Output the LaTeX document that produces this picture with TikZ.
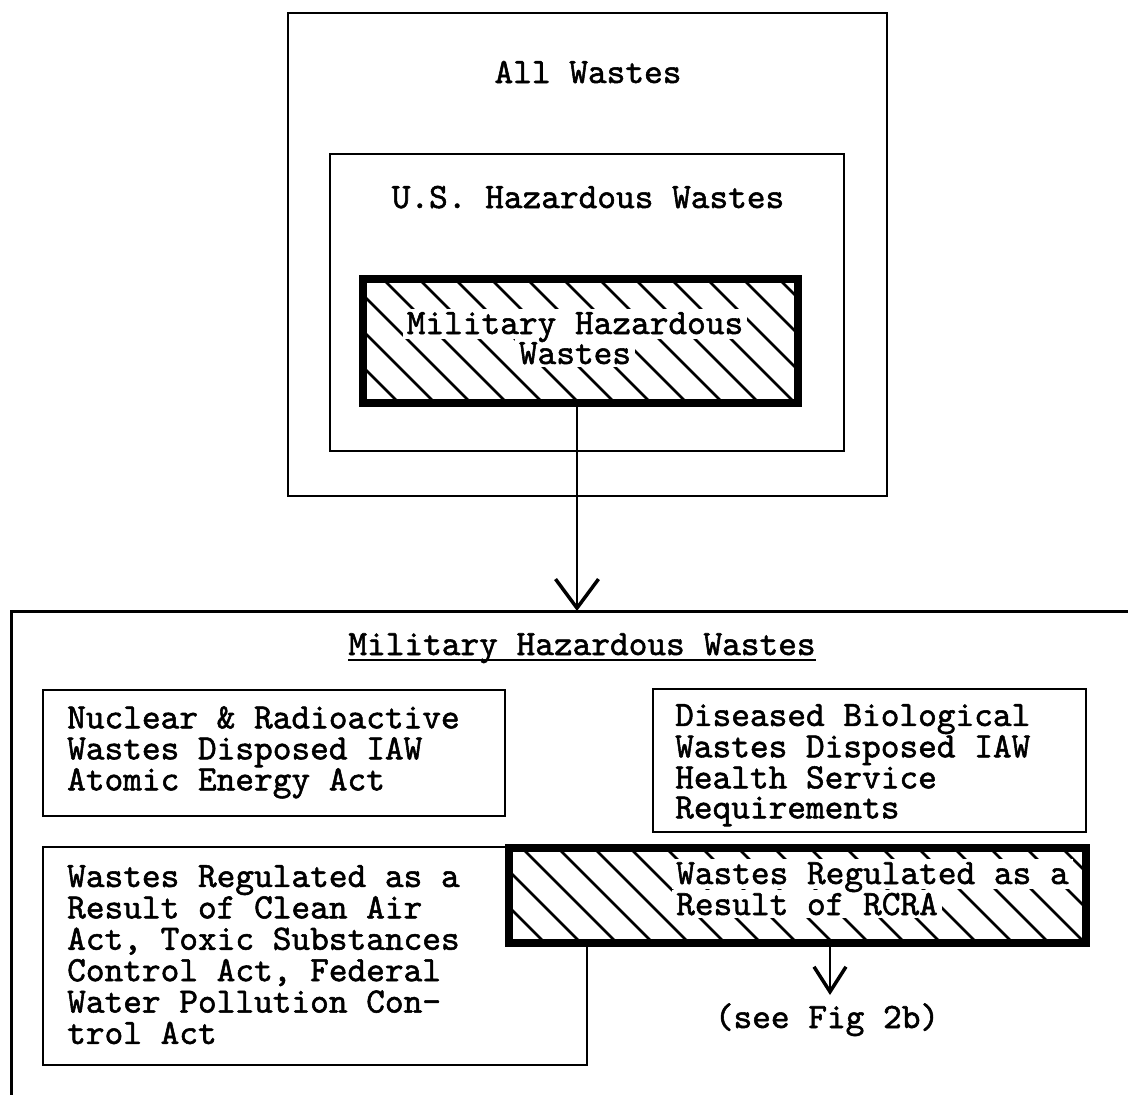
\documentclass[tikz,border=0pt]{standalone}
\usepackage{fontspec}
\newfontfamily\tw{lmmono10-regular.otf}[FakeBold=1.5]
\usetikzlibrary{arrows.meta}
\newcommand\tf{\tw\fontsize{35.6}{31}\selectfont}
\begin{document}
\begin{tikzpicture}[x=1pt,y=-1pt,
  thinbox/.style={draw, line width=2.5pt, inner sep=0pt, outer sep=0pt, fill=white},
  thickbox/.style={draw, line width=8pt, inner sep=0pt, outer sep=0pt, fill=white},
  txt/.style={font=\tf, inner sep=0pt, align=left},
  htxt/.style={font=\tf, inner xsep=4pt, inner ysep=3pt, fill=white},
  hatch/.style={line width=2.5pt},
  arr/.style={line width=2.5pt, -{Straight Barb[length=29pt,width=43pt,line width=3.5pt]}},
  arrsmall/.style={line width=2.5pt, -{Straight Barb[length=25pt,width=32pt,line width=3.5pt]}}]
\useasboundingbox (0,0) rectangle (1128,1095);
\fill[white] (0,0) rectangle (1128,1095);

% top group
\node[thinbox, minimum width=599pt, minimum height=483pt] (allbox) at (587.5,254.5) {};
\node[txt, anchor=base] (allw) at (588,83) {All Wastes};
\node[thinbox, minimum width=514pt, minimum height=297pt] (usbox) at (587,302.5) {};
\node[txt, anchor=base] (ushz) at (588,208) {U.S. Hazardous Wastes};
\node[thickbox, minimum width=435pt, minimum height=124pt] (milbox) at (580.5,341) {};
\begin{scope}
  \clip (milbox.north west) rectangle (milbox.south east);
  \foreach \k in {0,...,17}
    \draw[hatch] ([xshift=\k*36pt-124pt]milbox.north west) -- ++(124,124);
\end{scope}
\node[htxt, anchor=base] (mil2) at (575,364) {Wastes};
\node[htxt, anchor=base, text depth=2pt] (mil1) at (575,334) {Military Hazardous};

% big box
\node[draw, line width=3pt, inner sep=0pt, outer sep=0pt, minimum width=2000pt, minimum height=2000pt] (bigbox) at (1011,1611) {};
\node[txt, anchor=base] (milhdr) at (582,655) {Military Hazardous Wastes};
\draw[line width=2.5pt] ([yshift=-5pt]milhdr.base west) -- ([yshift=-5pt]milhdr.base east);

\draw[arr] ([xshift=-3.5pt]milbox.south) -- ([xshift=-3.5pt]milbox.south |- bigbox.north);

% inner boxes
\node[thinbox, minimum width=462pt, minimum height=126pt] (nucbox) at (274,753) {};
\node[txt, anchor=north west] (nuctxt) at (67,706) {Nuclear \& Radioactive\\Wastes Disposed IAW\\Atomic Energy Act};
\node[thinbox, minimum width=433pt, minimum height=143pt] (disbox) at (869.5,760.5) {};
\node[txt, anchor=north west, font=\tw\fontsize{35.6}{30}\selectfont] (distxt) at (675,704) {Diseased Biological\\Wastes Disposed IAW\\Health Service\\Requirements};
\node[thinbox, minimum width=544pt, minimum height=218pt] (leftbox) at (315,956) {};
\node[txt, anchor=north west, font=\tw\fontsize{35.6}{31.4}\selectfont] (lefttxt) at (67,865) {Wastes Regulated as a\\Result of Clean Air\\Act, Toxic Substances\\Control Act, Federal\\Water Pollution Con-\\trol Act};
\node[thickbox, minimum width=577pt, minimum height=95pt] (rcrabox) at (797.5,895.5) {};
\begin{scope}
  \clip (rcrabox.north west) rectangle (rcrabox.south east);
  \foreach \k in {0,...,19}
    \draw[hatch] ([xshift=\k*36pt-95pt]rcrabox.north west) -- ++(95,95);
\end{scope}
\node[htxt, anchor=base west] (rcra2) at (672,915) {Result of RCRA};
\node[htxt, anchor=base west, text depth=2pt] (rcra1) at (672,884) {Wastes Regulated as a};

\coordinate (tip2) at (830,995);
\draw[arrsmall] (rcrabox.south -| tip2) -- (tip2);
\node[txt, anchor=base] (seefig) at (827,1028) {(see Fig 2b)};
\end{tikzpicture}
\end{document}
